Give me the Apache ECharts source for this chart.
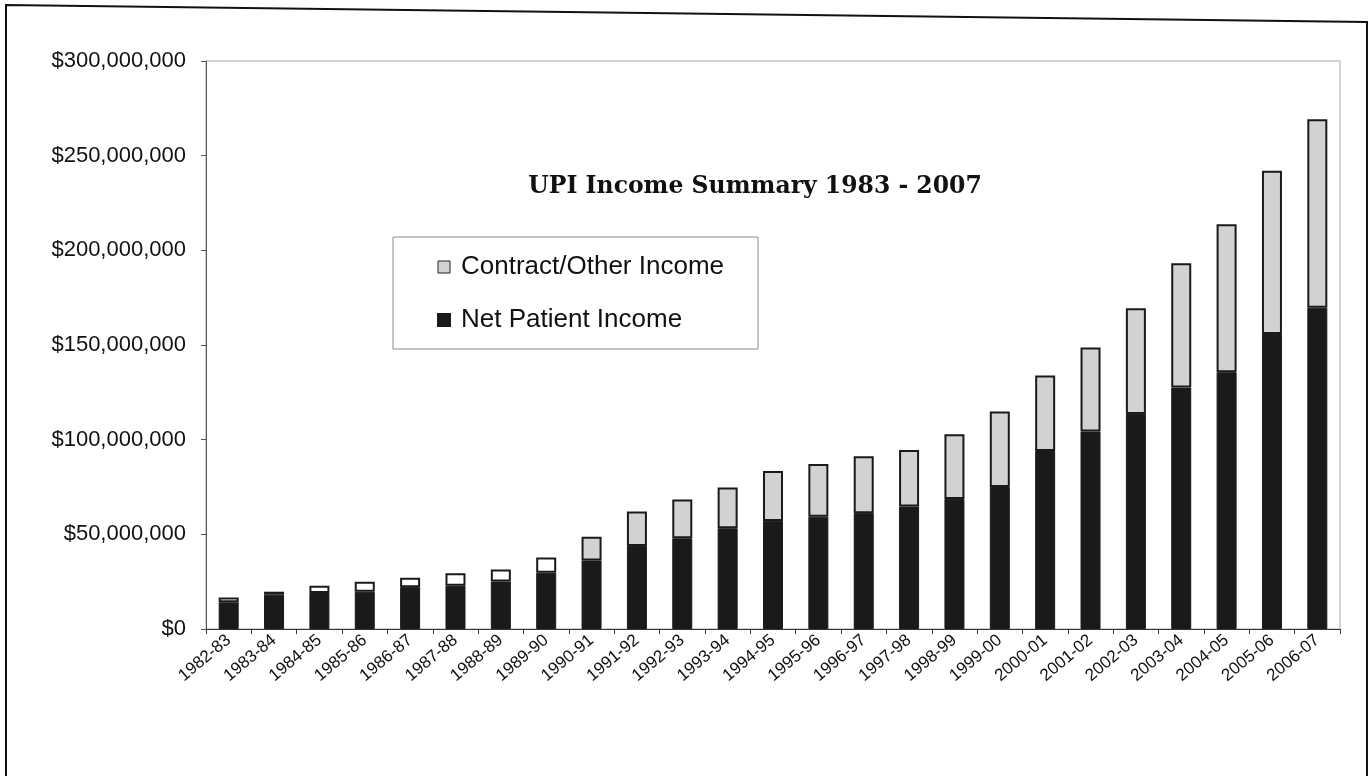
<!DOCTYPE html>
<html>
<head>
<meta charset="utf-8">
<script src="https://cdn.jsdelivr.net/npm/echarts@6/dist/echarts.min.js"></script>
<style>
html,body{margin:0;padding:0;background:#fff;}
#chart{width:1370px;height:776px;}
</style>
</head>
<body>
<div id="chart"></div>
<script>
// Fiscal years (categories)
const years = ['1982-83','1983-84','1984-85','1985-86','1986-87','1987-88','1988-89','1989-90',
  '1990-91','1991-92','1992-93','1993-94','1994-95','1995-96','1996-97','1997-98','1998-99',
  '1999-00','2000-01','2001-02','2002-03','2003-04','2004-05','2005-06','2006-07'];

// Net Patient Income, in millions of dollars
const netPatientMillions = [14.1, 18.1, 19.0, 19.7, 22.1, 22.9, 25.1, 29.7, 36.2, 43.8, 47.9, 53.2,
  57.1, 59.3, 61.2, 64.7, 68.7, 75.0, 94.0, 104.3, 113.6, 127.5, 135.6, 155.8, 169.7];

// Contract/Other Income, in millions of dollars
const contractOtherMillions = [2.6, 1.6, 3.9, 5.3, 5.0, 6.6, 6.3, 8.0, 12.5, 18.2, 20.5, 21.6,
  26.4, 27.9, 30.1, 29.8, 34.2, 39.9, 39.9, 44.4, 55.8, 65.7, 78.2, 86.2, 99.5];

// Y axis range / tick step in dollars
const yMax = 300000000;
const yStep = 50000000;

// In the scanned picture the gray fill of the early bars is washed out to white
const washedOutCount = 8;

const chart = echarts.init(document.getElementById('chart'));

const netData = netPatientMillions.map(v => v * 1e6);
const contractData = contractOtherMillions.map((v, i) => {
  const val = v * 1e6;
  return i < washedOutCount ? { value: val, itemStyle: { color: '#ffffff' } } : val;
});

const option = {
  backgroundColor: '#ffffff',
  animation: false,
  textStyle: { fontFamily: 'Liberation Sans, Arial, sans-serif' },
  grid: {
    left: 206, right: 30, top: 61, bottom: 147,
    show: true, borderColor: '#a8a8a8', borderWidth: 1, backgroundColor: 'transparent'
  },
  legend: {
    orient: 'vertical',
    left: 393, top: 237,
    padding: [17, 34, 16, 44],
    itemGap: 27,
    itemWidth: 12, itemHeight: 12,
    backgroundColor: '#ffffff',
    borderColor: '#8a8a8a', borderWidth: 1,
    icon: 'rect',
    data: [
      { name: 'Contract/Other Income', itemStyle: { color: '#d2d2d2', borderColor: '#222', borderWidth: 1 } },
      { name: 'Net Patient Income', itemStyle: { color: '#1a1a1a' } }
    ],
    textStyle: { fontSize: 26, color: '#111', fontFamily: 'Liberation Sans, Arial, sans-serif', lineHeight: 24, padding: [0, 0, 0, 6] }
  },
  graphic: [
    {
      type: 'polyline', silent: true,
      shape: { points: [[6, 790], [6, 5], [1367, 22], [1367, 790]] },
      style: { stroke: '#111', lineWidth: 2, fill: null }
    },
    {
      type: 'text', silent: true,
      x: 755, y: 187,
      style: {
        text: 'UPI Income Summary 1983 - 2007',
        font: 'bold 23.5px "DejaVu Serif", "Liberation Serif", serif',
        fill: '#111', textAlign: 'center', textVerticalAlign: 'middle'
      }
    }
  ],
  xAxis: {
    type: 'category',
    data: years,
    boundaryGap: true,
    axisLine: { show: true, lineStyle: { color: '#333', width: 1 } },
    axisTick: { show: true, interval: 0, length: 5, lineStyle: { color: '#333' } },
    axisLabel: { interval: 0, rotate: 40, fontSize: 17, color: '#111', margin: 9 },
    splitLine: { show: false }
  },
  yAxis: {
    type: 'value',
    min: 0, max: yMax, interval: yStep,
    axisLine: { show: true, lineStyle: { color: '#555', width: 1 } },
    axisTick: { show: true, length: 5, lineStyle: { color: '#555' } },
    axisLabel: {
      fontSize: 22, color: '#111', margin: 20,
      formatter: v => '$' + v.toLocaleString('en-US')
    },
    splitLine: { show: false }
  },
  series: [
    {
      name: 'Net Patient Income',
      type: 'bar', stack: 'income',
      barWidth: 20,
      data: netData,
      itemStyle: { color: '#1a1a1a', borderColor: '#1a1a1a', borderWidth: 1 }
    },
    {
      name: 'Contract/Other Income',
      type: 'bar', stack: 'income',
      barWidth: 20,
      data: contractData,
      itemStyle: { color: '#d2d2d2', borderColor: '#1a1a1a', borderWidth: 2 }
    }
  ]
};

chart.setOption(option);
</script>
</body>
</html>
